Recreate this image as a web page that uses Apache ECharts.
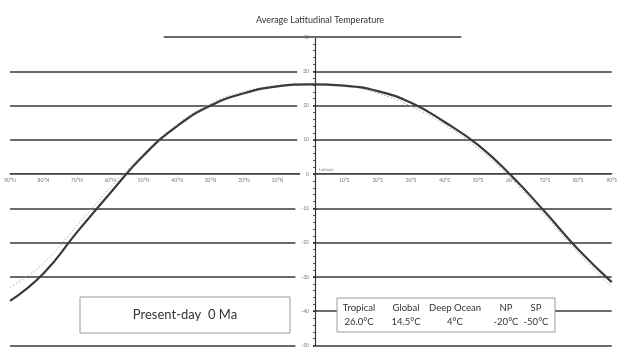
<!DOCTYPE html>
<html>
<head>
<meta charset="utf-8">
<script src="https://cdn.jsdelivr.net/npm/echarts@6/dist/echarts.min.js"></script>
<style>
  html, body { margin: 0; padding: 0; background: #fff; }
  #chart { width: 620px; height: 349px; }
</style>
</head>
<body>
<div id="chart"></div>
<script>
// latitude (positive = north), read every 10 degrees
const latitudes = [90, 80, 70, 60, 50, 40, 30, 20, 10, 0, -10, -20, -30, -40, -50, -60, -70, -80, -90];
// model curve (solid)
const modelTemps = [-37, -29, -17, -5.5, 5.5, 14, 20, 23.6, 25.6, 26.2, 25.8, 24.2, 20.8, 15.2, 8.5, -0.5, -11, -22, -31.5];
// observed curve (dotted)
const observedTemps = [-33, -26, -15, -4, 6, 14.5, 20.5, 24, 25.8, 26.4, 25.8, 23.6, 19.8, 14.4, 7.5, -1.5, -12, -23, -33];
// short top reference line at 40 (from 44N to 45S)
const topLine = [[44, 40], [-45, 40]];

const zoneNames = ['Tropical', 'Global', 'Deep Ocean', 'NP', 'SP'];
const zoneTemps = ['26.0°C', '14.5°C', '4°C', '-20°C', '-50°C'];
const periodLabel = 'Present-day  0 Ma';

const pair = (xs, ys) => xs.map((x, i) => [x, ys[i]]);

const chart = echarts.init(document.getElementById('chart'));
const font = 'Lato';
const gridColor = '#6a6a6a';

const zoneX = [359, 406, 455, 506, 536];

chart.setOption({
  backgroundColor: '#fff',
  animation: false,
  title: {
    text: 'Average Latitudinal Temperature',
    left: 315, top: 11, textAlign: 'center',
    textStyle: { fontFamily: font, fontSize: 9, fontWeight: 'normal', color: '#333' }
  },
  grid: { left: 10, right: 0, top: 37, bottom: 2 },
  xAxis: {
    type: 'value', min: -90, max: 90, interval: 10, inverse: true,
    position: 'bottom', offset: -172,
    axisLine: { onZero: false, lineStyle: { color: '#444', width: 1.2 } },
    axisTick: { show: false },
    axisLabel: {
      fontFamily: font, fontSize: 5, color: '#777', margin: 4,
      formatter: v => v > 0 ? v + '°N' : (v < 0 ? (-v) + '°S' : '')
    },
    splitLine: { show: false }
  },
  yAxis: {
    type: 'value', min: -50, max: 40, interval: 10,
    position: 'left', offset: -305,
    axisLine: { onZero: false, lineStyle: { color: '#333', width: 1.2 } },
    axisTick: { show: true, length: 4, lineStyle: { color: '#333' } },
    minorTick: { show: true, splitNumber: 5, length: 2, lineStyle: { color: '#555' } },
    axisLabel: {
      fontFamily: font, fontSize: 5, color: '#777', margin: 2,
      backgroundColor: '#fff', padding: [1, 4, 1, 6]
    },
    splitLine: { show: true, showMaxLine: false, lineStyle: { color: gridColor, width: 1.8 } }
  },
  series: [
    {
      name: 'Observed', type: 'line', smooth: true, symbol: 'none',
      data: pair(latitudes, observedTemps),
      lineStyle: { color: '#aaa', width: 1, type: [1.5, 2] },
      z: 3
    },
    {
      name: 'Model', type: 'line', smooth: true, symbol: 'none',
      data: pair(latitudes, modelTemps),
      lineStyle: { color: '#3a3a3a', width: 2.2 },
      z: 4,
      markLine: {
        silent: true, symbol: 'none', label: { show: false },
        lineStyle: { color: gridColor, width: 1.8, type: 'solid' },
        data: [[{ coord: topLine[0] }, { coord: topLine[1] }]]
      }
    }
  ],
  graphic: [
    { type: 'text', left: 319, top: 168,
      style: { text: 'Latitude', font: '4px ' + font, fill: '#777' } },
    // hide the -40 line on the left side
    { type: 'rect', shape: { x: 0, y: 309, width: 298, height: 8 },
      style: { fill: '#fff' }, z: 50 },
    { type: 'rect', shape: { x: 80, y: 297, width: 210, height: 36 },
      style: { fill: '#fff', stroke: '#999', lineWidth: 1 }, z: 60 },
    { type: 'text', x: 185, y: 315, z: 61,
      style: { text: periodLabel, font: '13px ' + font, fill: '#333', align: 'center', verticalAlign: 'middle' } },
    { type: 'rect', shape: { x: 337, y: 298, width: 218, height: 34 },
      style: { fill: '#fff', stroke: '#999', lineWidth: 1 }, z: 60 },
    ...zoneNames.map((n, i) => ({
      type: 'text', x: zoneX[i], y: 308, z: 61,
      style: { text: n, font: '9.5px ' + font, fill: '#333', align: 'center', verticalAlign: 'middle' }
    })),
    ...zoneTemps.map((t, i) => ({
      type: 'text', x: zoneX[i], y: 322, z: 61,
      style: { text: t, font: '9.5px ' + font, fill: '#333', align: 'center', verticalAlign: 'middle' }
    }))
  ]
});
</script>
</body>
</html>
